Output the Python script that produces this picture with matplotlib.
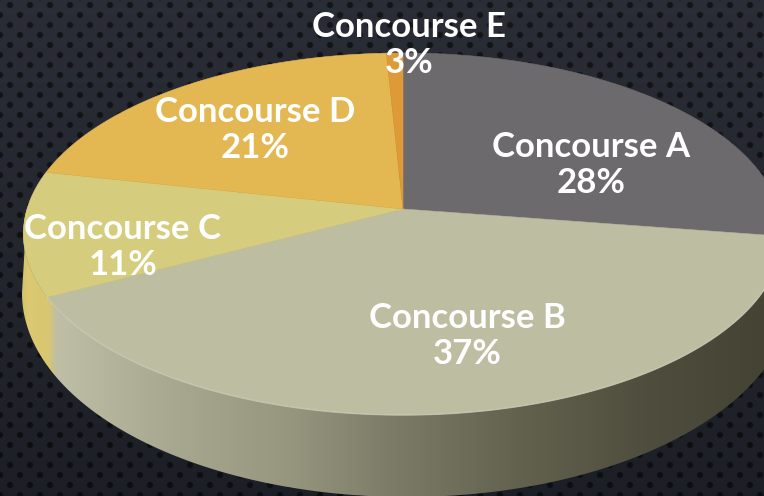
import matplotlib
matplotlib.use('Agg')
import matplotlib.pyplot as plt
import numpy as np
from matplotlib.colors import LinearSegmentedColormap
from matplotlib.patches import Polygon

# what the labels say
categories = ['Concourse A', 'Concourse B', 'Concourse C', 'Concourse D', 'Concourse E']
percent_labels = ['28%', '37%', '11%', '21%', '3%']

# share of the circle each slice really takes up in the picture
drawn_shares = [27.4, 39.9, 11.1, 20.8, 0.8]
slice_colors = ['#6c6a6c', '#bdbda2', '#d6cc7d', '#e3b752', '#dd9a36']

W, H = 764, 496
# projected pie: centre, half width, half depth, perspective
cx, cy = 403, 209
w, s, q = 376, 177.6, 0.138


def project(deg):
    # clockwise from the top of the circle
    a = np.radians(deg)
    u, v = np.sin(a), np.cos(a)
    den = 1 + q * v
    return cx + w * u / den, cy - s * v / den


def background():
    yy, xx = np.mgrid[0:H, 0:W] + 0.5
    # staggered perforation
    row = np.floor(yy / 10)
    shift = (row % 2) * 10
    dx = (xx + shift) % 20 - 10
    dy = yy % 10 - 5
    dist = np.hypot(dx, dy)
    dots = np.clip((3.8 - dist) / 1.5, 0, 1)
    light = 1 - 0.55 * (yy / H)
    base = np.array([0.165, 0.178, 0.21])
    dark = np.array([0.065, 0.075, 0.095])
    img = np.zeros((H, W, 3))
    for c in range(3):
        tone = dark[c] + (base[c] - dark[c]) * light
        img[..., c] = tone * (1 - dots) + (tone * 0.45) * dots
    return img


fig = plt.figure(figsize=(W / 100, H / 100), dpi=100)
ax = fig.add_axes([0, 0, 1, 1])
ax.imshow(background(), extent=(0, W, H, 0), aspect='auto', zorder=0)

# side wall of the pie
wall_deg = np.linspace(-90, 90, 300) + 180
rim_x, rim_y = project(wall_deg)
t = np.radians(np.linspace(180, 0, 300))
low_x = 407 + 385 * np.cos(t)
low_y = 293 + 204 * np.sin(t)
wall = Polygon(np.column_stack([np.r_[rim_x[::-1], low_x[::-1]],
                                np.r_[rim_y[::-1], low_y[::-1]]]),
               closed=True, fc='none', ec='none', zorder=1)
ax.add_patch(wall)
wall_cmap = LinearSegmentedColormap.from_list('wall', [
    (0.0, '#b9a552'), (0.035, '#dcc972'), (0.062, '#d8c670'), (0.072, '#bfbea6'),
    (0.20, '#abaa93'), (0.38, '#96957e'), (0.52, '#7b7a66'), (0.68, '#63624f'),
    (0.85, '#4f4e3e'), (1.0, '#454434')])
grad = ax.imshow(np.linspace(0, 1, 764)[None, :], extent=(0, W, H, 0), aspect='auto',
                 cmap=wall_cmap, zorder=1.5)
grad.set_clip_path(wall)

# top of the pie
edges = np.cumsum([0] + drawn_shares) * 3.6
for i, color in enumerate(slice_colors):
    deg = np.linspace(edges[i], edges[i + 1], 200)
    xs, ys = project(deg)
    pts = np.column_stack([np.r_[cx, xs], np.r_[cy, ys]])
    ax.add_patch(Polygon(pts, closed=True, fc=color, ec=color, lw=0.4, zorder=2))

# light line along the front rim
deg = np.linspace(edges[1], edges[2], 200)
xs, ys = project(deg)
ax.plot(xs, ys, color='#d9d9c4', lw=1.0, alpha=0.55, zorder=3)

label_pos = [(591, 165), (467, 336), (123, 247), (255, 130), (409, 45)]
for name, pct, (x, y) in zip(categories, percent_labels, label_pos):
    ax.text(x, y, name + '\n' + pct, color='white', ha='center', va='center',
            family='Lato', fontweight='bold', fontsize=25, linespacing=1.13, zorder=5)

ax.set_xlim(0, W)
ax.set_ylim(H, 0)
ax.axis('off')
fig.savefig('out.png', dpi=100)
